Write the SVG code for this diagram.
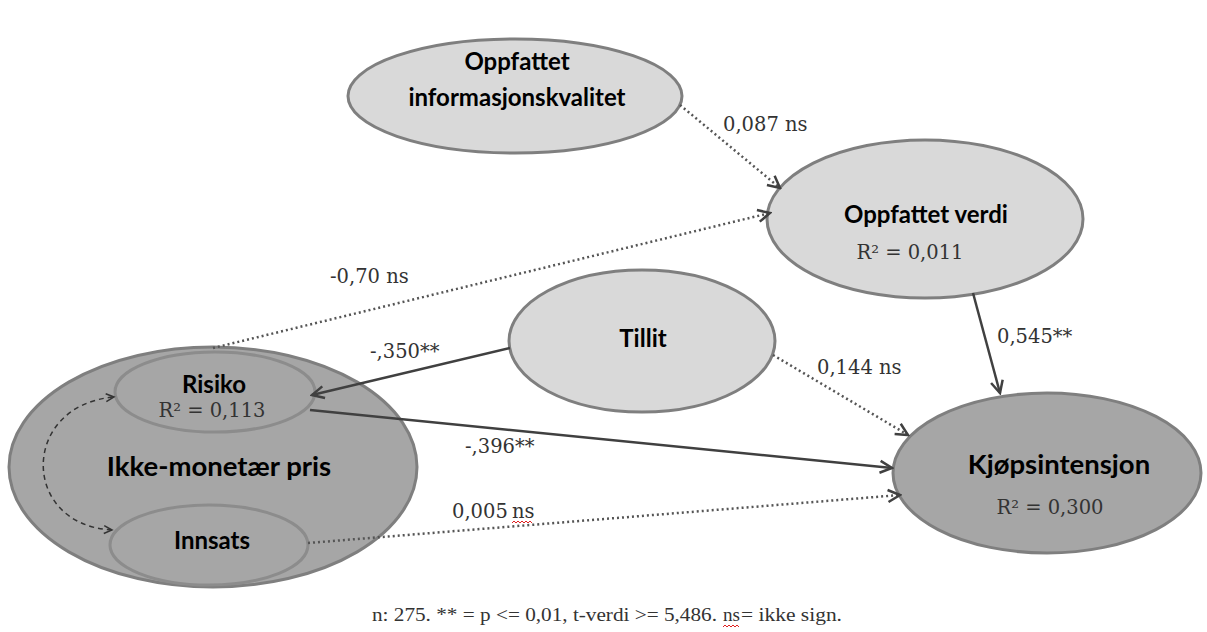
<svg xmlns="http://www.w3.org/2000/svg" width="1207" height="632" viewBox="0 0 1207 632">
  <style>
    .light { fill: #d9d9d9; stroke: #7f7f7f; stroke-width: 3; }
    .dark { fill: #a6a6a6; stroke: #7f7f7f; stroke-width: 3; }
    .inner { fill: #a6a6a6; stroke: #8c8c8c; stroke-width: 3; }
    .lbl { font-family: Lato, "Open Sans", sans-serif; font-weight: bold; font-size: 24px; fill: #000; text-anchor: middle; }
    .big { font-size: 27.5px; }
    .num { font-family: "DejaVu Serif", "Liberation Serif", serif; font-size: 19.5px; fill: #333; }
    .foot { font-family: "Liberation Serif", "DejaVu Serif", serif; font-size: 18px; fill: #333; }
    .mid { text-anchor: middle; }
    .solid { fill: none; stroke: #404040; stroke-width: 2.5; marker-end: url(#arrow); }
    .dot { fill: none; stroke: #555; stroke-width: 2.5; stroke-dasharray: 2 3; marker-end: url(#arrow); }
    .dash { fill: none; stroke: #333; stroke-width: 1.5; stroke-dasharray: 5 4; }
    .squiggle { fill: none; stroke: #e02020; stroke-width: 1; }
  </style>
  <defs>
    <marker id="arrow" markerUnits="userSpaceOnUse" markerWidth="16" markerHeight="16" viewBox="0 0 16 16" refX="14" refY="8" orient="auto">
      <path d="M2,2 L14,8 L2,14" fill="none" stroke="#404040" stroke-width="2.5"/>
    </marker>
    <marker id="arrowSmall" markerUnits="userSpaceOnUse" markerWidth="12" markerHeight="12" viewBox="0 0 12 12" refX="10" refY="6" orient="auto-start-reverse">
      <path d="M2,2 L10,6 L2,10" fill="none" stroke="#333" stroke-width="1.5"/>
    </marker>
  </defs>

  <rect width="1207" height="632" fill="#fff"/>

  <!-- nodes -->
  <g id="informasjonskvalitet">
    <ellipse class="light" cx="515" cy="96" rx="167" ry="57"/>
    <text class="lbl" x="517" y="70">Oppfattet</text>
    <text class="lbl" x="517" y="106">informasjonskvalitet</text>
  </g>

  <g id="verdi">
    <ellipse class="light" cx="925" cy="219" rx="158" ry="79"/>
    <text class="lbl" x="926" y="223">Oppfattet verdi</text>
    <text class="num mid" x="910" y="259">R² = 0,011</text>
  </g>

  <g id="tillit">
    <ellipse class="light" cx="642" cy="341" rx="133" ry="71"/>
    <text class="lbl" x="643" y="347">Tillit</text>
  </g>

  <g id="kjopsintensjon">
    <ellipse class="dark" cx="1047" cy="473" rx="154" ry="80"/>
    <text class="lbl big" x="1059" y="474">Kjøpsintensjon</text>
    <text class="num mid" x="1050" y="514">R² = 0,300</text>
  </g>

  <g id="ikke-monetaer-pris">
    <ellipse class="dark" cx="213" cy="467" rx="204" ry="120"/>
    <text class="lbl big" x="219" y="476">Ikke-monetær pris</text>
  </g>

  <g id="risiko">
    <ellipse class="inner" cx="215" cy="392" rx="100" ry="40"/>
    <text class="lbl" x="214" y="393">Risiko</text>
    <text class="num mid" x="212" y="417">R² = 0,113</text>
  </g>

  <g id="innsats">
    <ellipse class="inner" cx="209" cy="545" rx="99" ry="40"/>
    <text class="lbl" x="212" y="549">Innsats</text>
  </g>

  <!-- connectors -->
  <g id="connectors">
    <path class="dot" d="M680,105 L780,188"/>
    <path class="dot" d="M213,348 L770,213"/>
    <path class="solid" d="M510,348 L312,395"/>
    <path class="dot" d="M773,355 L908,435"/>
    <path class="solid" d="M973,293 L1000,393"/>
    <path class="solid" d="M310,410 L892,468"/>
    <path class="dot" d="M308,543 L900,495"/>
    <path class="dash" d="M112,530 C20,525 20,405 114,397" marker-start="url(#arrowSmall)" marker-end="url(#arrowSmall)"/>

    <text class="num" x="723" y="131">0,087 ns</text>
    <text class="num" x="330" y="283">-0,70 ns</text>
    <text class="num" x="370" y="358">-,350**</text>
    <text class="num" x="817" y="374">0,144 ns</text>
    <text class="num" x="997" y="343">0,545**</text>
    <text class="num" x="465" y="453">-,396**</text>
    <text class="num" x="452" y="518">0,005 <tspan x="512">ns</tspan></text>
    <path class="squiggle" d="M512,523 l2,-2 l2,2 l2,-2 l2,2 l2,-2 l2,2 l2,-2 l2,2 l2,-2 l2,2"/>
  </g>

  <!-- footnote -->
  <text class="foot" y="621"><tspan x="372" textLength="345" lengthAdjust="spacingAndGlyphs">n: 275. ** = p &lt;= 0,01, t-verdi &gt;= 5,486.</tspan><tspan x="723" textLength="17" lengthAdjust="spacingAndGlyphs">ns</tspan><tspan x="741" textLength="101" lengthAdjust="spacingAndGlyphs">= ikke sign.</tspan></text>
  <path class="squiggle" d="M723,627 l2,-2 l2,2 l2,-2 l2,2 l2,-2 l2,2 l2,-2 l2,2"/>
</svg>
